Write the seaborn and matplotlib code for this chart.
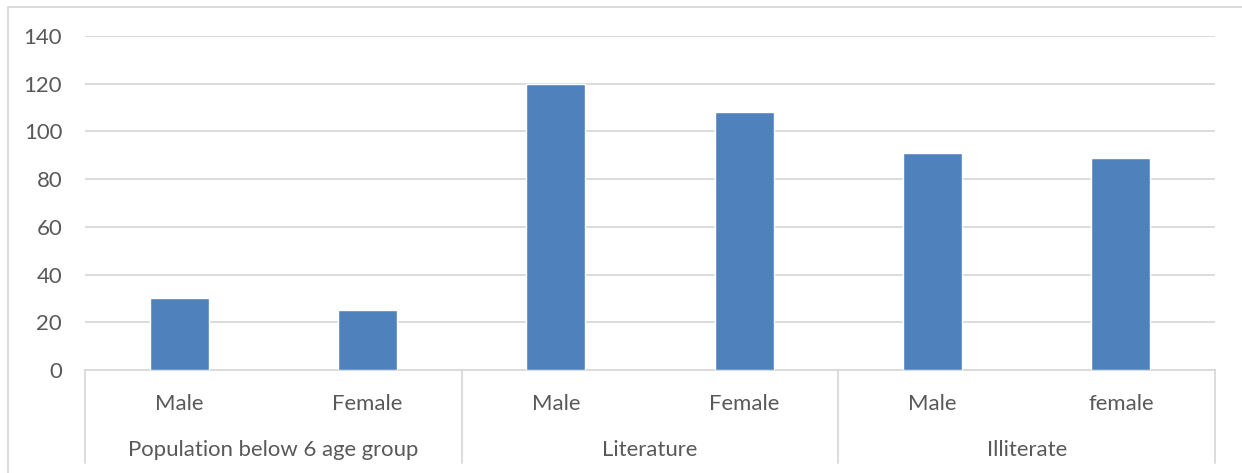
import matplotlib
matplotlib.use("Agg")
import matplotlib.pyplot as plt
import matplotlib.transforms as mtransforms
from matplotlib.lines import Line2D
import seaborn as sns
import pandas as pd

# Chart data
groups = ["Population below 6 age group", "Literature", "Illiterate"]
sub_labels = ["Male", "Female", "Male", "Female", "Male", "female"]
group_of_bar = [0, 0, 1, 1, 2, 2]
values = [30, 25, 120, 108, 91, 89]

sns.set_theme(style="white")
plt.rcParams["font.family"] = ["Lato", "DejaVu Sans"]

TEXT = "#595959"
GRID = "#D9D9D9"
BAR = "#4F81BD"
FS = 15.9

df = pd.DataFrame({
    "key": [f"{groups[g]}|{s}|{i}" for i, (g, s) in enumerate(zip(group_of_bar, sub_labels))],
    "value": values,
})

fig = plt.figure(figsize=(12.42, 4.73), dpi=100)
ax = fig.add_axes([85 / 1242, 103 / 473, 1130 / 1242, 334 / 473])

sns.barplot(data=df, x="key", y="value", order=list(df["key"]), color=BAR,
            saturation=1, width=0.315, ax=ax, zorder=3)

ax.set_ylim(0, 140)
ax.set_xlim(-0.5, len(values) - 0.5)
ax.set_yticks(range(0, 141, 20))
ax.yaxis.grid(True, color=GRID, linewidth=1.3, zorder=0)
ax.set_axisbelow(True)
ax.tick_params(axis="y", length=0, pad=16.5, labelsize=FS, labelcolor=TEXT)
ax.set_xticks([])
ax.set_xlabel("")
ax.set_ylabel("")
for side in ["top", "right", "left"]:
    ax.spines[side].set_visible(False)
ax.spines["bottom"].set_color(GRID)
ax.spines["bottom"].set_linewidth(1.3)

# Two-level category axis below the bars
trans = mtransforms.blended_transform_factory(ax.transData, ax.transAxes)
for i, lab in enumerate(sub_labels):
    ax.text(i, -0.102, lab, transform=trans, ha="center", va="center",
            fontsize=FS, color=TEXT)
n_groups = len(groups)
for g, name in enumerate(groups):
    idx = [i for i, gg in enumerate(group_of_bar) if gg == g]
    center = (idx[0] + idx[-1]) / 2
    ax.text(center, -0.24, name, transform=trans, ha="center", va="center",
            fontsize=FS, color=TEXT)
bounds = [-0.5] + [max(i for i, gg in enumerate(group_of_bar) if gg == g) + 0.5
                   for g in range(n_groups)]
for b in bounds:
    ax.plot([b, b], [0, -0.278], transform=trans, color=GRID, linewidth=1.3,
            clip_on=False)

# Chart frame
fig.add_artist(Line2D([8 / 1242, 8 / 1242], [0, 1 - 7 / 473], color=GRID,
                      linewidth=1.3, transform=fig.transFigure))
fig.add_artist(Line2D([8 / 1242, 1], [1 - 7 / 473, 1 - 7 / 473], color=GRID,
                      linewidth=1.3, transform=fig.transFigure))

fig.savefig("out.png", dpi=100, facecolor="white")
